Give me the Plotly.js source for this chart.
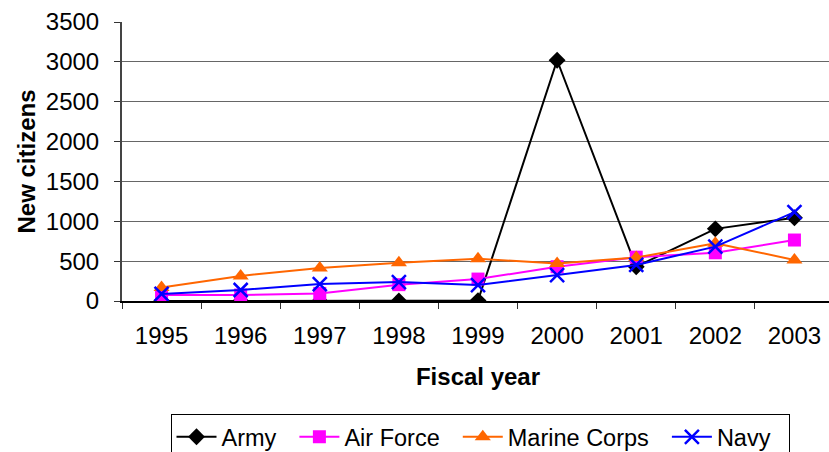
<!DOCTYPE html>
<html>
<head>
<meta charset="utf-8">
<script src="https://cdn.plot.ly/plotly-3.0.1.min.js"></script>
<style>
html,body{margin:0;padding:0;overflow:hidden;background:#fff;}
#chart{width:834px;height:452px;}
</style>
</head>
<body>
<div id="chart"></div>
<script>
const years = ["1995","1996","1997","1998","1999","2000","2001","2002","2003"];
const seriesNames = ["Army", "Air Force", "Marine Corps", "Navy"];
const army = [0, 0, 0, 0, 5, 3020, 430, 905, 1045];
const airForce = [75, 75, 95, 205, 275, 430, 550, 605, 765];
const marineCorps = [170, 315, 415, 480, 530, 470, 545, 725, 515];
const navy = [88, 138, 213, 238, 200, 326, 452, 682, 1115];
const yTicks = [0, 500, 1000, 1500, 2000, 2500, 3000, 3500];

const font = "Liberation Sans, Arial, sans-serif";
const pad = "\u00a0\u00a0";

const traces = [
  {name: seriesNames[0] + pad, x: years, y: army, type: "scatter", mode: "lines+markers",
   line: {color: "#000000", width: 2}, marker: {symbol: "diamond", size: 13, color: "#000000"}},
  {name: seriesNames[1] + pad, x: years, y: airForce, type: "scatter", mode: "lines+markers",
   line: {color: "#FF00FF", width: 2}, marker: {symbol: "square", size: 13, color: "#FF00FF"}},
  {name: seriesNames[2] + pad, x: years, y: marineCorps, type: "scatter", mode: "lines+markers",
   line: {color: "#FF6600", width: 2}, marker: {symbol: "triangle-up", size: 14, color: "#FF6600"}},
  {name: seriesNames[3] + pad, x: years, y: navy, type: "scatter", mode: "lines+markers",
   line: {color: "#0000FF", width: 2}, marker: {symbol: "x-thin-open", size: 14, color: "#0000FF", line: {color: "#0000FF", width: 2.5}}}
];

const layout = {
  width: 834, height: 452,
  margin: {l: 122, r: 0, t: 22, b: 151, autoexpand: false},
  paper_bgcolor: "#ffffff", plot_bgcolor: "#ffffff",
  font: {family: font, size: 24, color: "#000"},
  showlegend: true,
  legend: {orientation: "h", x: 480/834, xanchor: "center", xref: "container",
    y: (452-414)/452, yanchor: "top", yref: "container",
    bordercolor: "#000", borderwidth: 1, font: {family: font, size: 23.5, color: "#000"},
    traceorder: "normal", itemwidth: 40, tracegroupgap: 0},
  xaxis: {type: "category", tickson: "boundaries", ticks: "outside", ticklen: 6, tickcolor: "#333",
    showline: true, linecolor: "#000", linewidth: 2, showgrid: false, zeroline: false, automargin: false,
    tickfont: {family: font, size: 24}, range: [-0.5, 8.5], ticklabelstandoff: 12,
    title: {text: "Fiscal year", font: {family: font, size: 24, color: "#000", weight: "bold"}, standoff: 20}},
  yaxis: {range: [0, 3500], tickvals: yTicks, ticks: "outside", ticklen: 6, tickcolor: "#333",
    showline: true, linecolor: "#444", linewidth: 2, showgrid: true, gridcolor: "#666", gridwidth: 1,
    zeroline: false, automargin: false, tickfont: {family: font, size: 24}, ticklabelstandoff: 10,
    title: {text: "New citizens", font: {family: font, size: 24, color: "#000", weight: "bold"}, standoff: 3}}
};

Plotly.newPlot("chart", traces, layout, {displayModeBar: false, staticPlot: true});
</script>
</body>
</html>
